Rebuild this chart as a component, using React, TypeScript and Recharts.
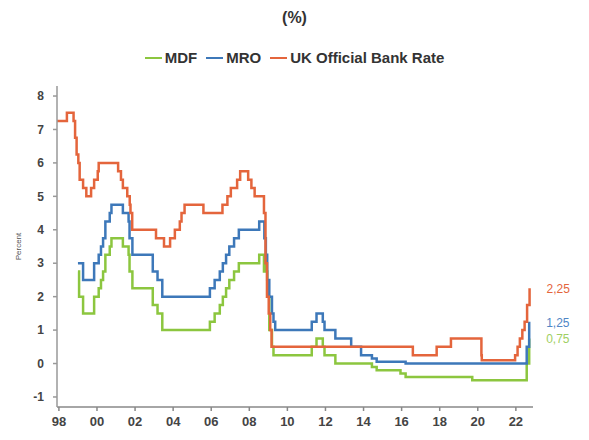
import { LineChart, Line, XAxis, YAxis, Legend } from 'recharts';

const FONT = '"Liberation Sans", Arial, sans-serif';

// Policy rate changes: date as decimal year, rate in percent
const ukDates = [
  1997.9, 1998.42, 1998.77, 1998.85, 1998.93, 1999.02, 1999.09, 1999.27, 1999.44, 1999.69,
  1999.85, 2000.04, 2000.09, 2001.11, 2001.26, 2001.36, 2001.59, 2001.72, 2001.76, 2001.85,
  2003.1, 2003.52, 2003.84, 2004.09, 2004.35, 2004.44, 2004.6, 2005.59, 2006.59, 2006.85,
  2007.03, 2007.36, 2007.52, 2007.94, 2008.11, 2008.28, 2008.77, 2008.85, 2008.93, 2009.02,
  2009.1, 2009.17, 2016.59, 2017.84, 2018.59, 2020.19, 2020.21, 2021.96, 2022.09, 2022.21,
  2022.34, 2022.46, 2022.59, 2022.72,
];
const ukRates = [
  7.25, 7.5, 7.25, 6.75, 6.25, 6.0, 5.5, 5.25, 5.0, 5.25,
  5.5, 5.75, 6.0, 5.75, 5.5, 5.25, 5.0, 4.75, 4.5, 4.0,
  3.75, 3.5, 3.75, 4.0, 4.25, 4.5, 4.75, 4.5, 4.75, 5.0,
  5.25, 5.5, 5.75, 5.5, 5.25, 5.0, 4.5, 3.0, 2.0, 1.5,
  1.0, 0.5, 0.25, 0.5, 0.75, 0.25, 0.1, 0.25, 0.5, 0.75,
  1.0, 1.25, 1.75, 2.25,
];

const ecbDates = [
  1999.0, 1999.06, 1999.27, 1999.85, 2000.09, 2000.21, 2000.32, 2000.44, 2000.67, 2000.76,
  2001.36, 2001.66, 2001.71, 2001.86, 2002.93, 2003.18, 2003.43, 2005.93, 2006.18, 2006.45,
  2006.61, 2006.78, 2006.95, 2007.2, 2007.45, 2008.52, 2008.77, 2008.79, 2008.87, 2008.94,
  2009.05, 2009.19, 2009.27, 2009.36, 2011.28, 2011.53, 2011.86, 2011.95, 2012.52, 2013.35,
  2013.87, 2014.44, 2014.69, 2015.94, 2016.21, 2019.71, 2022.57, 2022.7,
];
const mroRates = [
  3.0, 3.0, 2.5, 3.0, 3.25, 3.5, 3.75, 4.25, 4.5, 4.75,
  4.5, 4.25, 3.75, 3.25, 2.75, 2.5, 2.0, 2.25, 2.5, 2.75,
  3.0, 3.25, 3.5, 3.75, 4.0, 4.25, 4.25, 3.75, 3.25, 2.5,
  2.0, 1.5, 1.25, 1.0, 1.25, 1.5, 1.25, 1.0, 0.75, 0.5,
  0.25, 0.15, 0.05, 0.05, 0.0, 0.0, 0.5, 1.25,
];
const mdfRates = [
  2.75, 2.0, 1.5, 2.0, 2.25, 2.5, 2.75, 3.25, 3.5, 3.75,
  3.5, 3.25, 2.75, 2.25, 1.75, 1.5, 1.0, 1.25, 1.5, 1.75,
  2.0, 2.25, 2.5, 2.75, 3.0, 3.25, 2.75, 3.25, 2.75, 2.0,
  1.0, 0.5, 0.25, 0.25, 0.5, 0.75, 0.5, 0.25, 0.0, 0.0,
  0.0, -0.1, -0.2, -0.3, -0.4, -0.5, 0.0, 0.75,
];

const yearTicks = [1998, 2000, 2002, 2004, 2006, 2008, 2010, 2012, 2014, 2016, 2018, 2020, 2022];
const rateTicks = [-1, 0, 1, 2, 3, 4, 5, 6, 7, 8];

const toRows = (dates: number[], rates: number[]) => dates.map((t, i) => ({ t, v: rates[i] }));

const SERIES = [
  { key: 'mdf', name: 'MDF', color: '#8cc63f', labelColor: '#9fcf62', data: toRows(ecbDates, mdfRates) },
  { key: 'mro', name: 'MRO', color: '#3d78b9', labelColor: '#4f86c6', data: toRows(ecbDates, mroRates) },
  { key: 'uk', name: 'UK Official Bank Rate', color: '#e4653c', labelColor: '#e4653c', data: toRows(ukDates, ukRates) },
];

const endLabel = (color: string, count: number) => (props: any) => {
  const { x, y, index, value } = props;
  if (index !== count - 1) return <g />;
  return (
    <text x={x + 17} y={y + 5} fill={color} fontSize={12} fontFamily={FONT}>
      {Number(value).toFixed(2).replace('.', ',')}
    </text>
  );
};

const ChartHeader = () => (
  <div style={{ fontFamily: FONT, color: '#333', textAlign: 'center', width: 589 }}>
    <div style={{ fontSize: 16, fontWeight: 'bold', lineHeight: '18px', paddingTop: 9 }}>(%)</div>
    <div
      style={{
        display: 'flex', justifyContent: 'center', gap: 9, marginTop: 23,
        fontSize: 15, fontWeight: 'bold', lineHeight: '16px',
      }}
    >
      {SERIES.map((s) => (
        <span key={s.key} style={{ display: 'flex', alignItems: 'center' }}>
          <span style={{ display: 'inline-block', width: 17, height: 2, background: s.color, marginRight: 3 }} />
          {s.name}
        </span>
      ))}
    </div>
  </div>
);

export default function App() {
  return (
    <div style={{ position: 'absolute', left: 0, top: 0, width: 589, height: 440, background: '#fff' }}>
      <LineChart width={589} height={440} margin={{ top: 86, right: 56, bottom: 3, left: 7 }}>
        <XAxis
          type="number"
          dataKey="t"
          domain={[1997.9, 2022.9]}
          ticks={yearTicks}
          allowDataOverflow
          tickFormatter={(t: number) => String(t % 100).padStart(2, '0')}
          stroke="#888"
          strokeWidth={1.5}
          tickSize={4}
          tickMargin={6}
          tick={{ fill: '#444', fontSize: 13, fontWeight: 'bold', fontFamily: FONT }}
        />
        <YAxis
          type="number"
          domain={[-1.3, 8.3]}
          ticks={rateTicks}
          allowDataOverflow
          width={50}
          stroke="#999"
          strokeWidth={1.5}
          tickSize={4}
          tickMargin={9}
          tick={{ fill: '#444', fontSize: 12, fontWeight: 'bold', fontFamily: FONT }}
          label={{
            content: (p: any) => {
              const vb = p.viewBox;
              const cx = vb.x + 14;
              const cy = vb.y + vb.height / 2;
              return (
                <text
                  x={cx} y={cy} transform={`rotate(-90 ${cx} ${cy})`} textAnchor="middle"
                  fontSize={8} fontFamily={FONT} fill="#555"
                >
                  Percent
                </text>
              );
            },
          }}
        />
        <Legend
          verticalAlign="middle"
          align="center"
          wrapperStyle={{ top: 0, left: 0, width: 589 }}
          content={() => <ChartHeader />}
        />
        {SERIES.map((s) => (
          <Line
            key={s.key}
            data={s.data}
            dataKey="v"
            name={s.name}
            type="stepAfter"
            stroke={s.color}
            strokeWidth={2.5}
            dot={false}
            isAnimationActive={false}
            label={endLabel(s.labelColor, s.data.length)}
          />
        ))}
      </LineChart>
    </div>
  );
}
